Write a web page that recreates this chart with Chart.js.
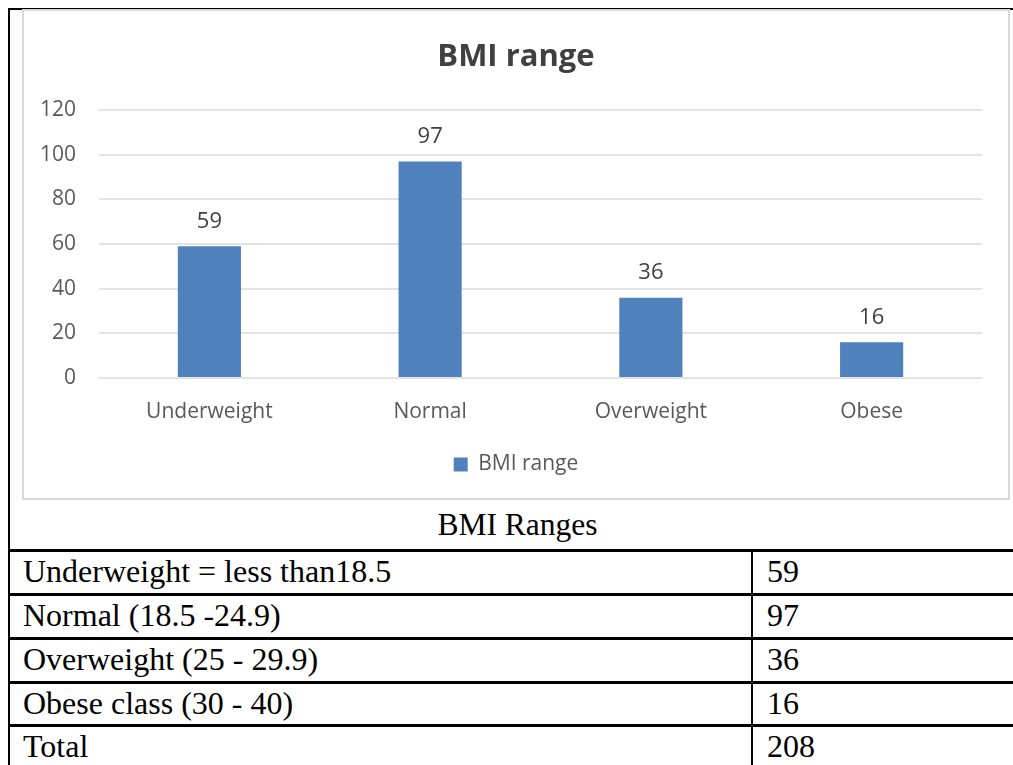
<!DOCTYPE html>
<html>
<head>
<meta charset="utf-8">
<script src="https://cdn.jsdelivr.net/npm/chart.js@4"></script>
<style>
  html, body { margin: 0; padding: 0; background: #fff; }
  body { width: 1013px; height: 765px; position: relative; overflow: hidden; }
  .rule { position: absolute; background: #000; }
  #frame { position: absolute; left: 22px; top: 9px; width: 984px; height: 487px;
           border: 2px solid #d9d9d9; }
  #chart { position: absolute; left: 0; top: 0; }
  #caption { position: absolute; left: 22px; width: 991px; top: 507px; text-align: center;
             font-family: "Liberation Serif", "Times New Roman", serif; font-size: 31.5px; color: #000; }
  .cell { position: absolute; font-family: "Liberation Serif", "Times New Roman", serif;
          font-size: 32px; color: #000; line-height: 42px; white-space: nowrap; }
</style>
</head>
<body>
<div class="rule" style="left:8px; top:8px; width:1005px; height:2px;"></div>
<div class="rule" style="left:8px; top:8px; width:2px; height:757px;"></div>
<div id="frame"><canvas id="chart" width="984" height="487"></canvas></div>
<div id="caption">BMI Ranges</div>
<div id="table"></div>
<script>
// Chart data
const categories = ["Underweight", "Normal", "Overweight", "Obese"];
const counts = [59, 97, 36, 16];
const seriesName = "BMI range";

// Table data
const rangeLabels = ["Underweight = less than18.5", "Normal (18.5 -24.9)", "Overweight (25 - 29.9)", "Obese class (30 - 40)", "Total"];
const rangeCounts = [59, 97, 36, 16, 208];

// Build the table below the chart
const table = document.getElementById("table");
const rowTops = [549, 593, 637, 681, 724];
rowTops.forEach((top, i) => {
  const line = document.createElement("div");
  line.className = "rule";
  line.style.cssText = `left:8px; top:${top}px; width:1005px; height:3px;`;
  table.appendChild(line);
  const a = document.createElement("div");
  a.className = "cell";
  a.style.left = "23px"; a.style.top = (top + 1) + "px";
  a.textContent = rangeLabels[i];
  table.appendChild(a);
  const b = document.createElement("div");
  b.className = "cell";
  b.style.left = "767px"; b.style.top = (top + 1) + "px";
  b.textContent = rangeCounts[i];
  table.appendChild(b);
});
const vline = document.createElement("div");
vline.className = "rule";
vline.style.cssText = "left:751px; top:549px; width:2px; height:216px;";
table.appendChild(vline);

const FONT = "'Open Sans', 'Liberation Sans', sans-serif";
const GREY = "#595959";

// Value labels above each bar
const valueLabels = {
  id: "valueLabels",
  afterDatasetsDraw(chart) {
    const ctx = chart.ctx;
    const meta = chart.getDatasetMeta(0);
    ctx.save();
    ctx.font = "22px " + FONT;
    ctx.fillStyle = "#404040";
    ctx.textAlign = "center";
    ctx.textBaseline = "middle";
    meta.data.forEach((bar, i) => {
      ctx.fillText(String(chart.data.datasets[0].data[i]), bar.x, bar.y - 25);
    });
    ctx.restore();
  }
};

new Chart(document.getElementById("chart"), {
  type: "bar",
  data: {
    labels: categories,
    datasets: [{
      label: seriesName,
      data: counts,
      backgroundColor: "#4f81bd",
      borderWidth: 0,
      categoryPercentage: 1,
      barPercentage: 0.286
    }]
  },
  options: {
    responsive: false,
    animation: false,
    layout: { padding: { left: 0, right: 0, top: 0, bottom: 13 } },
    plugins: {
      tooltip: { enabled: false },
      title: {
        display: true,
        text: "BMI range",
        color: "#404040",
        font: { family: FONT, size: 31, weight: "bold", lineHeight: 1.2 },
        padding: { top: 28, bottom: 34 }
      },
      legend: {
        position: "bottom",
        labels: {
          color: GREY,
          font: { family: FONT, size: 21 },
          boxWidth: 14,
          boxHeight: 14,
          padding: 12
        }
      }
    },
    scales: {
      x: {
        grid: { display: false },
        border: { display: false },
        ticks: { color: GREY, font: { family: FONT, size: 21 }, padding: 13 },
        afterFit(scale) { scale.height = 64; }
      },
      y: {
        min: 0,
        max: 120,
        ticks: { stepSize: 20, color: GREY, font: { family: FONT, size: 21 }, padding: 23 },
        grid: { color: "#e3e3e3", lineWidth: 2, drawTicks: false },
        border: { display: false },
        afterFit(scale) { scale.width = 75; }
      },
      // empty right-hand margin so the plot stops short of the frame
      gutter: {
        position: "right",
        display: true,
        ticks: { display: false },
        grid: { display: false },
        border: { display: false },
        afterFit(scale) { scale.width = 26; }
      }
    }
  },
  plugins: [valueLabels]
});
</script>
</body>
</html>
